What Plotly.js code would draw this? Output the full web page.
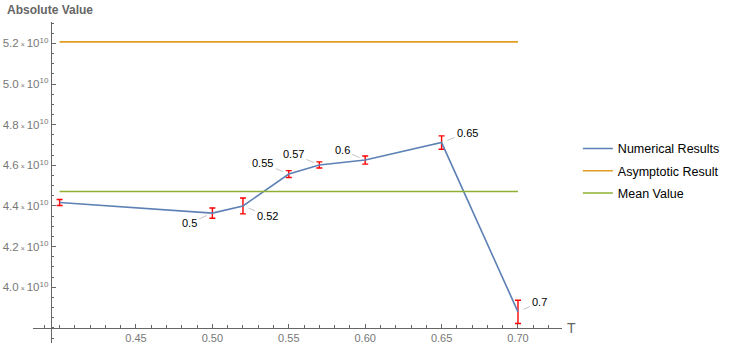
<!DOCTYPE html>
<html>
<head>
<meta charset="utf-8">
<script src="https://cdn.plot.ly/plotly-3.0.1.min.js"></script>
<style>
  html, body { margin: 0; padding: 0; background: #fff; }
  #chart { width: 730px; height: 346px; }
</style>
</head>
<body>
<div id="chart"></div>
<script>
// values
const T_values = [0.40, 0.50, 0.52, 0.55, 0.57, 0.60, 0.65, 0.70];
const numerical_values = [4.417e10, 4.365e10, 4.400e10, 4.557e10, 4.602e10, 4.626e10, 4.712e10, 3.879e10];
const numerical_errors = [0.015e10, 0.025e10, 0.039e10, 0.017e10, 0.015e10, 0.020e10, 0.033e10, 0.057e10];
const point_labels = ["", "0.5", "0.52", "0.55", "0.57", "0.6", "0.65", "0.7"];
const asymptotic_value = 5.207e10;
const mean_value = 4.471e10;

const x_tick_values = [0.45, 0.50, 0.55, 0.60, 0.65, 0.70];
const x_tick_labels = ["0.45", "0.50", "0.55", "0.60", "0.65", "0.70"];
const y_tick_values = [4.0e10, 4.2e10, 4.4e10, 4.6e10, 4.8e10, 5.0e10, 5.2e10];
const y_tick_labels = ["4.0", "4.2", "4.4", "4.6", "4.8", "5.0", "5.2"];

// label placement (pixel offsets of the text from its point)
const label_offsets = [[0, 0], [-23, 10], [25, 10], [-26, -11], [-26, -11], [-23, -10], [26, -10], [22, -10]];

const font_family = "Liberation Sans, Arial, sans-serif";
const x_range = [0.3826, 0.7288];
const y_range = [3.726e10, 5.305e10];
const axes_origin = {T: 0.3942, value: 3.80e10};

const plot_chart = (chartId) => {
  const T_span = [T_values[0], T_values[T_values.length - 1]];

  const numerical_data = {
    name: "Numerical Results",
    x: T_values,
    y: numerical_values,
    mode: "lines",
    type: "scatter",
    line: { color: "#5E81B5", width: 1.6 },
    error_y: {
      type: "data",
      array: numerical_errors,
      visible: true,
      color: "#FF0000",
      thickness: 1.4,
      width: 3,
    },
    legendgroup: "a",
  };

  const asymptotic_data = {
    name: "Asymptotic Result",
    x: T_span,
    y: [asymptotic_value, asymptotic_value],
    mode: "lines",
    type: "scatter",
    line: { color: "#E19C24", width: 1.6 },
    legendgroup: "b",
  };

  const mean_data = {
    name: "Mean Value",
    x: T_span,
    y: [mean_value, mean_value],
    mode: "lines",
    type: "scatter",
    line: { color: "#8FB032", width: 1.6 },
    legendgroup: "c",
  };

  const annotations = [];
  point_labels.forEach((label, i) => {
    if (!label) return;
    annotations.push({
      x: T_values[i],
      y: numerical_values[i],
      xref: "x",
      yref: "y",
      text: label,
      showarrow: true,
      arrowhead: 0,
      arrowwidth: 1,
      arrowcolor: "#c4c4c4",
      standoff: 6,
      startstandoff: 1,
      ax: label_offsets[i][0],
      ay: label_offsets[i][1],
      font: { family: font_family, size: 11, color: "#000" },
    });
  });

  const x_axis_pos = (axes_origin.value - y_range[0]) / (y_range[1] - y_range[0]);
  const y_axis_pos = (axes_origin.T - x_range[0]) / (x_range[1] - x_range[0]);

  annotations.push({
    xref: "paper",
    yref: "paper",
    x: 1,
    y: x_axis_pos,
    xanchor: "left",
    yanchor: "middle",
    xshift: 3,
    text: "T",
    showarrow: false,
    font: { family: font_family, size: 14, color: "#666" },
  });

  const data = [numerical_data, asymptotic_data, mean_data];

  const layout = {
    width: 730,
    height: 346,
    margin: { l: 33, r: 168, t: 22, b: 3 },
    paper_bgcolor: "#fff",
    plot_bgcolor: "#fff",
    font: { family: font_family, color: "#666" },
    title: {
      text: "<b>Absolute Value</b>",
      xref: "container",
      yref: "container",
      x: 7 / 730,
      xanchor: "left",
      y: 1 - 10 / 346,
      yanchor: "middle",
      font: { family: font_family, size: 12, color: "#666" },
    },
    xaxis: {
      range: x_range,
      anchor: "free",
      position: x_axis_pos,
      showgrid: false,
      zeroline: false,
      showline: true,
      linecolor: "#666",
      linewidth: 1,
      ticks: "inside",
      ticklen: 4,
      tickcolor: "#666",
      tickmode: "array",
      tickvals: x_tick_values,
      ticktext: x_tick_labels,
      tickfont: { family: font_family, size: 11, color: "#777" },
      minor: { ticks: "inside", ticklen: 2.5, tickcolor: "#666", tickmode: "linear", tick0: 0, dtick: 0.01 },
    },
    yaxis: {
      range: y_range,
      anchor: "free",
      position: y_axis_pos,
      showgrid: false,
      zeroline: false,
      showline: true,
      linecolor: "#666",
      linewidth: 1,
      ticks: "inside",
      ticklen: 4,
      tickcolor: "#666",
      tickmode: "array",
      tickvals: y_tick_values,
      ticktext: y_tick_labels.map((t) => t + "<span style='font-size:7px'> × </span>10<sup>10</sup>"),
      tickfont: { family: font_family, size: 11.5, color: "#777" },
      minor: { ticks: "inside", ticklen: 2.5, tickcolor: "#666", tickmode: "linear", tick0: 0, dtick: 0.05e10 },
    },
    showlegend: true,
    legend: {
      x: 1.03,
      xanchor: "left",
      y: 0.536,
      yanchor: "middle",
      traceorder: "grouped",
      tracegroupgap: 3,
      font: { family: font_family, size: 12.5, color: "#000" },
      bgcolor: "rgba(0,0,0,0)",
    },
    annotations: annotations,
  };

  Plotly.newPlot(chartId, data, layout, { staticPlot: true });
};

plot_chart("chart");
</script>
</body>
</html>
